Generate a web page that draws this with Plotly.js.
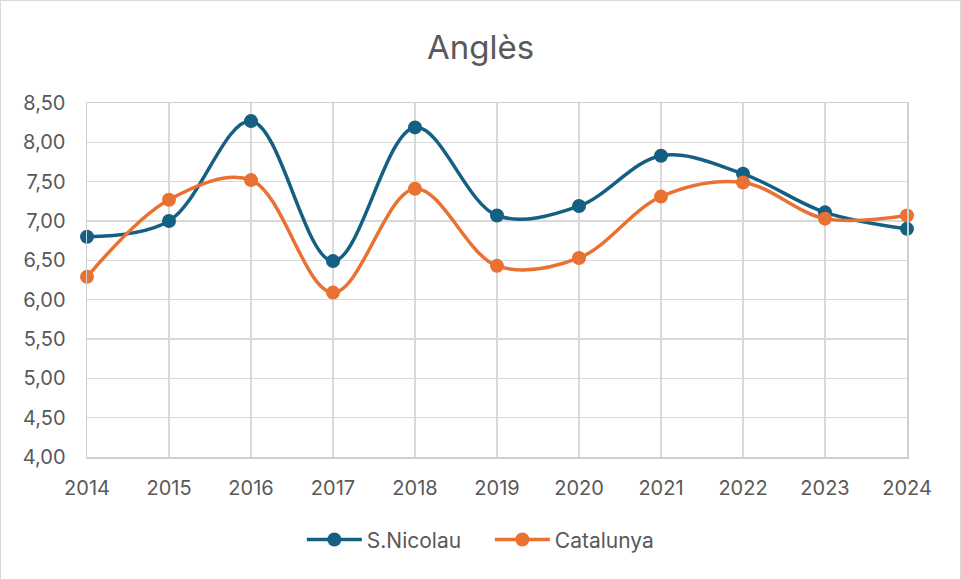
<!DOCTYPE html>
<html>
<head>
<meta charset="utf-8">
<script src="https://cdn.plot.ly/plotly-3.0.1.min.js"></script>
<style>
html,body{margin:0;padding:0;background:#fff;}
#chart{width:959px;height:578px;border:1px solid #d9d9d9;}
</style>
</head>
<body>
<div id="chart"></div>
<script>
const years = [2014, 2015, 2016, 2017, 2018, 2019, 2020, 2021, 2022, 2023, 2024];
const sNicolau = [6.80, 7.00, 8.27, 6.49, 8.19, 7.07, 7.19, 7.83, 7.60, 7.11, 6.90];
const catalunya = [6.29, 7.27, 7.52, 6.09, 7.41, 6.43, 6.53, 7.31, 7.49, 7.03, 7.07];
const yTicks = [4, 4.5, 5, 5.5, 6, 6.5, 7, 7.5, 8, 8.5];

const font = "Inter, 'Open Sans', sans-serif";
const mk = (name, y, color) => ({
  x: years, y: y, name: name, type: 'scatter', mode: 'lines+markers',
  line: {color: color, width: 3.5, shape: 'spline', smoothing: 1},
  marker: {color: color, size: 14},
  cliponaxis: false
});

Plotly.newPlot('chart', [mk('S.Nicolau', sNicolau, '#156082'), mk('Catalunya', catalunya, '#E97132')], {
  width: 959, height: 578,
  margin: {l: 86, r: 53, t: 102, b: 122},
  paper_bgcolor: '#fff', plot_bgcolor: '#fff',
  separators: ',.',
  font: {family: font, color: '#595959', size: 20},
  title: {text: 'Anglès', font: {family: font, size: 33, color: '#595959'}, x: 0.5, xanchor: 'center', y: 0.919, yanchor: 'middle'},
  xaxis: {
    range: [2014, 2024], tickvals: years, ticktext: years.map(String),
    showgrid: true, gridcolor: '#d9d9d9', gridwidth: 1.5,
    showline: true, linecolor: '#d0d0d0', linewidth: 1.5, mirror: true,
    zeroline: false, ticks: '', ticklen: 0, ticklabelstandoff: 12,
    tickfont: {family: font, size: 20, color: '#595959'}
  },
  yaxis: {
    range: [4, 8.5], tickvals: yTicks, tickformat: '.2f',
    showgrid: true, gridcolor: '#d9d9d9', gridwidth: 1.5,
    showline: true, linecolor: '#d0d0d0', linewidth: 1.5, mirror: true,
    zeroline: false, ticks: '', ticklen: 0, ticklabelstandoff: 16,
    tickfont: {family: font, size: 20, color: '#595959'}
  },
  showlegend: true,
  legend: {orientation: 'h', x: 0.262, xanchor: 'left', y: -0.234, yanchor: 'middle',
    font: {family: font, size: 21, color: '#595959'}, itemwidth: 55, entrywidth: 118}
}, {displayModeBar: false, staticPlot: true});
</script>
</body>
</html>
